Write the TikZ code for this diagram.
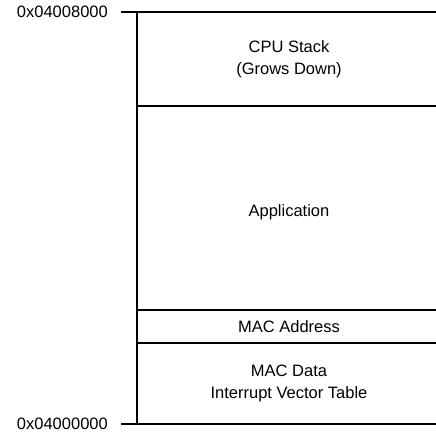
\documentclass[tikz,border=0pt]{standalone}
\usepackage{fontspec}
\setmainfont{Liberation Sans}
\begin{document}
\begin{tikzpicture}[x=1pt,y=1pt,
  memline/.style={line width=1.3pt,black},
  addr/.style={anchor=east,inner sep=0pt,font=\fontsize{16.5}{20}\selectfont},
  region/.style={align=center,inner sep=0pt,font=\fontsize{16.5}{22}\selectfont}]
\useasboundingbox (0,0) rectangle (436,432);
% address markers
\coordinate (topL) at (121,420);
\coordinate (topR) at (436,420);
\coordinate (botL) at (121,8);
\coordinate (botR) at (436,8);
\coordinate (axTop) at (137,420);
\coordinate (axBot) at (137,8);
% region boundaries
\coordinate (b1L) at (137,326); \coordinate (b1R) at (436,326);
\coordinate (b2L) at (137,122); \coordinate (b2R) at (436,122);
\coordinate (b3L) at (137,89);  \coordinate (b3R) at (436,89);
\draw[memline] (topL) -- (topR);
\draw[memline] (botL) -- (botR);
\draw[memline] (axTop) -- (axBot);
\draw[memline] (b1L) -- (b1R);
\draw[memline] (b2L) -- (b2R);
\draw[memline] (b3L) -- (b3R);
% labels
\node[addr] (hi) at (108,420) {0x04008000};
\node[addr] (lo) at (108,8) {0x04000000};
\node[region] (stack) at (289,373) {CPU Stack\\(Grows Down)};
\node[region] (app) at (289,220) {Application};
\node[region] (mac) at (289,105.5) {MAC Address};
\node[region] (data) at (289,48.5) {MAC Data\\Interrupt Vector Table};
\end{tikzpicture}
\end{document}
